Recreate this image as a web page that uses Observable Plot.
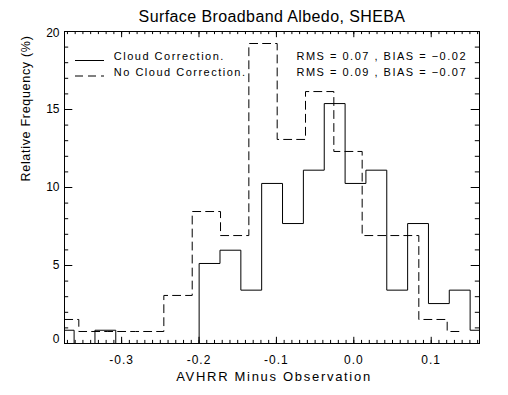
<!DOCTYPE html>
<html>
<head>
<meta charset="utf-8">
<script src="https://cdn.jsdelivr.net/npm/d3@7"></script>
<script src="https://cdn.jsdelivr.net/npm/@observablehq/plot@0.6"></script>
<style>
  html, body { margin: 0; padding: 0; background: #fff; }
  #chart svg { display: block; }
</style>
</head>
<body>
<div id="chart"></div>
<script>
// ---- data (bin centres, IDL psym=10 histogram) ----
const title = "Surface Broadband Albedo, SHEBA";
const xLabel = "AVHRR Minus Observation";
const yLabel = "Relative Frequency (%)";

const cloudX = [-0.3749, -0.3479, -0.3210, -0.2941, -0.2671, -0.2402, -0.2133, -0.1864, -0.1594, -0.1325,
                -0.1056, -0.0786, -0.0517, -0.0247, 0.0022, 0.0291, 0.0561, 0.0830, 0.1099, 0.1368, 0.1638];
const cloudY = [0.85, 0, 0.85, 0, 0, 0, 0, 5.13, 5.98, 3.42,
                10.26, 7.69, 11.11, 15.38, 10.26, 11.11, 3.42, 7.69, 2.56, 3.42, 0.85];

const noCloudX = [-0.3736, -0.3370, -0.3003, -0.2638, -0.2271, -0.1905, -0.1539, -0.1173,
                  -0.0807, -0.0441, -0.0075, 0.0291, 0.0657, 0.1023, 0.1390];
const noCloudY = [1.54, 0.77, 0.77, 0.77, 3.08, 8.46, 6.92, 19.23,
                  13.08, 16.15, 12.31, 6.92, 6.92, 1.54, 0.77];

const xTicks = [-0.3, -0.2, -0.1, 0.0, 0.1];
const xMinorTicks = d3.range(-37, 17).map(i => i / 100);
const yTicks = [0, 5, 10, 15, 20];
const yMinorTicks = d3.range(0, 21);

const legendLabels = ["Cloud Correction.", "No Cloud Correction."];
const statLabels = ["RMS = 0.07 , BIAS = \u22120.02", "RMS = 0.09 , BIAS = \u22120.07"];

const cloud = cloudX.map((x, i) => ({x, y: cloudY[i]}));
const noCloud = noCloudX.map((x, i) => ({x, y: noCloudY[i]}));

// ---- layout ----
const W = 508, H = 395;
const mL = 64, mR = 29, mT = 31, mB = 52;
const pw = W - mL - mR, ph = H - mT - mB;
const xMaj = 6.2, xMin = 3.1, yMaj = 8.3, yMin = 4.2;
const font = "'Liberation Sans', Arial, Helvetica, sans-serif";

const yTickLabel = (data, dy) => Plot.text(data, {y: d => d, frameAnchor: "left", text: d => String(d), textAnchor: "end", lineAnchor: "middle", dx: -5, dy, fontSize: 12, fill: "#000"});

const chart = Plot.plot({
  width: W, height: H,
  marginLeft: mL, marginRight: mR, marginTop: mT, marginBottom: mB,
  style: {fontFamily: font, background: "#fff", color: "#000"},
  x: {domain: [-0.3738, 0.1624], axis: null},
  y: {domain: [0, 20], axis: null},
  marks: [
    // histograms
    Plot.line(noCloud, {x: "x", y: "y", curve: "step", stroke: "#000", strokeWidth: 1, strokeDasharray: "8,5", clip: true}),
    Plot.line(cloud, {x: "x", y: "y", curve: "step", stroke: "#000", strokeWidth: 1, clip: true}),
    // ticks (inward, all four sides)
    Plot.tickX(xMinorTicks, {x: d => d, insetTop: ph - xMin, stroke: "#000"}),
    Plot.tickX(xMinorTicks, {x: d => d, insetBottom: ph - xMin, stroke: "#000"}),
    Plot.tickX(xTicks, {x: d => d, insetTop: ph - xMaj, stroke: "#000"}),
    Plot.tickX(xTicks, {x: d => d, insetBottom: ph - xMaj, stroke: "#000"}),
    Plot.tickY(yMinorTicks, {y: d => d, insetRight: pw - yMin, stroke: "#000"}),
    Plot.tickY(yMinorTicks, {y: d => d, insetLeft: pw - yMin, stroke: "#000"}),
    Plot.tickY(yTicks, {y: d => d, insetRight: pw - yMaj, stroke: "#000"}),
    Plot.tickY(yTicks, {y: d => d, insetLeft: pw - yMaj, stroke: "#000"}),
    Plot.frame({stroke: "#000"}),
    // tick labels
    Plot.text(xTicks, {x: d => d, frameAnchor: "bottom", text: d => d.toFixed(1), lineAnchor: "top", dy: 12, fontSize: 12, fill: "#000"}),
    yTickLabel(yTicks.filter(d => d > 0 && d < 20), 0),
    yTickLabel(yTicks.filter(d => d === 0), -4.5),
    yTickLabel(yTicks.filter(d => d === 20), 2),
    // axis titles
    Plot.text([xLabel], {frameAnchor: "bottom", lineAnchor: "bottom", dy: 37, dx: 2, fontSize: 13, fill: "#000"}),
    Plot.text([yLabel], {frameAnchor: "left", rotate: -90, lineAnchor: "bottom", dx: -34.5, dy: -6, fontSize: 12.5, fill: "#000"}),
    // title
    Plot.text([title], {frameAnchor: "top", lineAnchor: "bottom", dy: -9.3, fontSize: 16, fill: "#000"}),
    // legend
    Plot.text([legendLabels[0]], {frameAnchor: "top-left", textAnchor: "start", lineAnchor: "bottom", dx: 49.3, dy: 28.7, fontSize: 11, fill: "#000"}),
    Plot.text([legendLabels[1]], {frameAnchor: "top-left", textAnchor: "start", lineAnchor: "bottom", dx: 49.3, dy: 44.7, fontSize: 11, fill: "#000"}),
    Plot.text([statLabels[0]], {frameAnchor: "top-right", textAnchor: "end", lineAnchor: "bottom", dx: -12.5, dy: 28.7, fontSize: 11, fill: "#000"}),
    Plot.text([statLabels[1]], {frameAnchor: "top-right", textAnchor: "end", lineAnchor: "bottom", dx: -12.5, dy: 44.7, fontSize: 11, fill: "#000"})
  ]
});

document.getElementById("chart").appendChild(chart);

// letter spacing to mimic IDL vector font widths (matched by text content)
const svg = d3.select(chart);
const spacingFor = t => {
  if (t === title) return 0.4;
  if (legendLabels.includes(t) || statLabels.includes(t)) return 1.5;
  if (t === xLabel) return 1.7;
  if (t === yLabel) return 0.7;
  if (xTicks.map(d => d.toFixed(1)).includes(t)) return 1;
  return 0;
};
svg.selectAll("text").each(function() {
  const s = spacingFor(this.textContent);
  if (s) this.style.letterSpacing = s + "px";
});

// legend line samples
const leg = svg.append("g").attr("stroke", "#000").attr("stroke-width", 1);
leg.append("line").attr("x1", 75).attr("x2", 104).attr("y1", 60.5).attr("y2", 60.5);
leg.append("line").attr("x1", 75).attr("x2", 104).attr("y1", 76).attr("y2", 76).attr("stroke-dasharray", "8,5");
</script>
</body>
</html>
